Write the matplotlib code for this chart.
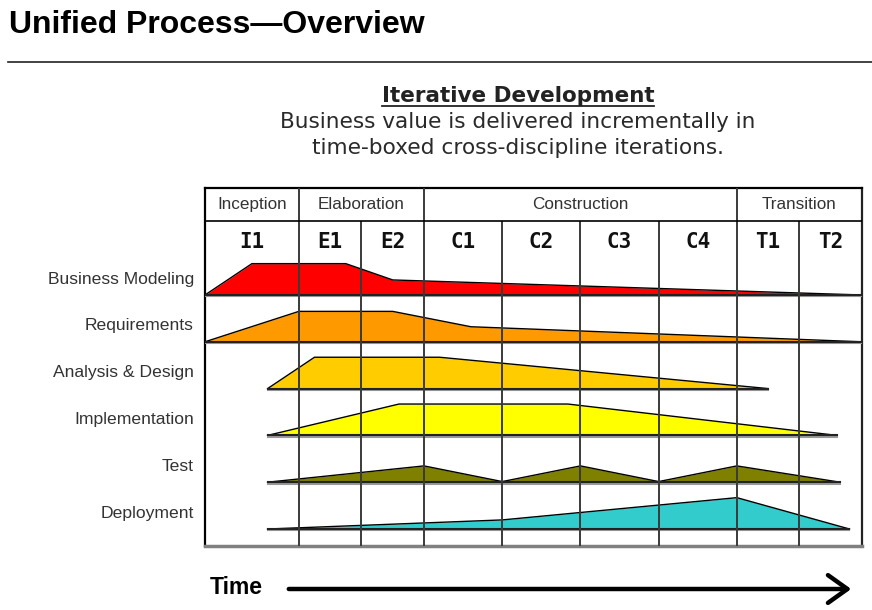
import numpy as np
import matplotlib.pyplot as plt
from matplotlib.lines import Line2D

# phases and iterations (time-boxed iteration lengths, arbitrary time units)
phases = ['Inception', 'Elaboration', 'Construction', 'Transition']
phase_iters = [1, 2, 4, 2]
iterations = ['I1', 'E1', 'E2', 'C1', 'C2', 'C3', 'C4', 'T1', 'T2']
iter_len = [1.5, 1, 1, 1.25, 1.25, 1.25, 1.25, 1, 1]

disciplines = ['Business Modeling', 'Requirements', 'Analysis & Design',
               'Implementation', 'Test', 'Deployment']
colors = ['#ff0000', '#ff9900', '#ffcc00', '#ffff00', '#808000', '#33cccc']

# effort profiles: time points and relative effort (0-100)
bm_t = [0, 0.75, 2.25, 3.0, 10.5]
bm_e = [0, 100, 100, 48, 0]
req_t = [0, 1.5, 3.0, 4.25, 10.5]
req_e = [0, 97, 97, 48, 0]
ad_t = [1.0, 1.75, 3.75, 9.0]
ad_e = [0, 100, 100, 0]
impl_t = [1.0, 3.1, 5.8, 10.1]
impl_e = [0, 100, 100, 0]
test_t = [1.0, 3.5, 4.75, 6.0, 7.25, 8.5, 10.15]
test_e = [0, 52, 2, 52, 2, 52, 0]
dep_t = [1.0, 4.75, 8.5, 10.3]
dep_e = [0, 29, 100, 0]

profiles = [(bm_t, bm_e), (req_t, req_e), (ad_t, ad_e),
            (impl_t, impl_e), (test_t, test_e), (dep_t, dep_e)]

W, H = 872, 610
fig = plt.figure(figsize=(W / 100, H / 100), dpi=100)
fig.patch.set_facecolor('white')

# page title + rule
fig.text(9 / W, 1 - 25 / H, 'Unified Process\u2014Overview', fontsize=23,
         fontweight='bold', family='Liberation Sans', va='center', ha='left')
fig.add_artist(Line2D([8 / W, 1.0], [1 - 62 / H] * 2, lw=1.2, color='#222222'))

# heading
t = fig.text(518 / W, 1 - 96 / H, 'Iterative Development', fontsize=15.5,
             fontweight='bold', family='DejaVu Sans', ha='center', va='center',
             color='#222222')
fig.text(518 / W, 1 - 122 / H, 'Business value is delivered incrementally in',
         fontsize=15.6, family='DejaVu Sans', ha='center', va='center', color='#2a2a2a')
fig.text(518 / W, 1 - 148 / H, 'time-boxed cross-discipline iterations.',
         fontsize=15.6, family='DejaVu Sans', ha='center', va='center', color='#2a2a2a')
fig.canvas.draw()
bb = t.get_window_extent().transformed(fig.transFigure.inverted())
fig.add_artist(Line2D([bb.x0, bb.x1], [1 - 106 / H] * 2, lw=1.3, color='#222222'))

# main diagram axes
ax = fig.add_axes([205 / W, 1 - 546 / H, 657 / W, 358 / H])
edges = np.concatenate([[0], np.cumsum(iter_len)])
top, hdr, bottom = -2.286, -1.58, 5.363
scale = 0.0067  # effort -> row height
ax.set_xlim(0, edges[-1])
ax.set_ylim(bottom, top)

# grid lines
pidx = np.cumsum(phase_iters)[:-1]
for k in range(1, len(iterations)):
    y0 = top if k in pidx else hdr
    ax.vlines(edges[k], y0, bottom, color='#3a3a3a', lw=1.4, zorder=5)
ax.hlines(hdr, 0, edges[-1], color='black', lw=1.2, zorder=5)

for i, ((tt, ee), c) in enumerate(zip(profiles, colors)):
    tt = np.array(tt)
    yy = i - np.array(ee) * scale
    ax.fill_between(tt, i, yy, color=c, lw=0, zorder=2)
    ax.plot(tt, yy, color='black', lw=1.0, zorder=3)
    x0, x1 = (0, edges[-1]) if i < 2 else (tt[0], tt[-1])
    ax.plot([x0, x1], [i + 0.03, i + 0.03], color='#999999', lw=1.5, zorder=3)
    ax.plot([x0, x1], [i, i], color='#222222', lw=1.5, zorder=4)

# labels
mid = (edges[:-1] + edges[1:]) / 2
for m, lab in zip(mid, iterations):
    ax.text(m, -1.13, lab, ha='center', va='center', fontsize=15,
            fontweight='bold', family='DejaVu Sans Mono', color='#111111')
pe = edges[np.concatenate([[0], np.cumsum(phase_iters)])]
for a, b, lab in zip(pe[:-1], pe[1:], phases):
    ax.text((a + b) / 2, -1.94, lab, ha='center', va='center', fontsize=12.3,
            family='Liberation Sans', color='#333333')

ax.set_xticks([])
ax.set_yticks([i - 0.37 for i in range(len(disciplines))], disciplines)
ax.tick_params(axis='y', length=0, pad=8, labelsize=12.6, labelcolor='#333333')
for lbl in ax.get_yticklabels():
    lbl.set_family('Liberation Sans')
for s in ['top', 'left']:
    ax.spines[s].set_linewidth(1.6)
    ax.spines[s].set_color('black')
ax.spines['right'].set_linewidth(1.6)
ax.spines['right'].set_color('#222222')
ax.spines['bottom'].set_linewidth(2.5)
ax.spines['bottom'].set_color('#808080')

# time arrow
fig.text(210 / W, 1 - 588 / H, 'Time', fontsize=16.5, fontweight='bold',
         family='Liberation Sans', va='center', ha='left')
fig.add_artist(plt.matplotlib.patches.FancyArrowPatch(
    (286 / W, 1 - 589 / H), (854 / W, 1 - 589 / H), transform=fig.transFigure,
    arrowstyle='->,head_length=0.7,head_width=0.5', mutation_scale=20,
    lw=3.2, color='black', capstyle='round'))

fig.savefig('out.png', dpi=100)
